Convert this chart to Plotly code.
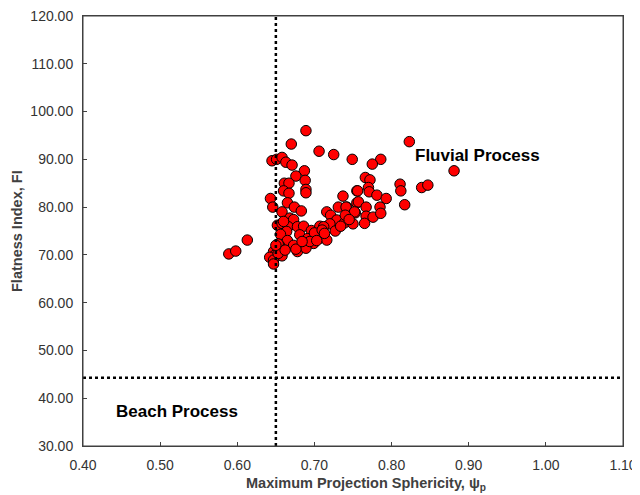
import plotly.graph_objects as go

sphericity = [
    0.589, 0.598, 0.613, 0.689, 0.670, 0.706, 0.725, 0.749, 0.645, 0.651,
    0.658, 0.663, 0.671, 0.687, 0.676, 0.688, 0.661, 0.667, 0.689, 0.689,
    0.660, 0.667, 0.643, 0.646, 0.665, 0.674, 0.683, 0.658, 0.668, 0.673,
    0.652, 0.658, 0.666, 0.678, 0.686, 0.696, 0.707, 0.716, 0.721, 0.731,
    0.737, 0.742, 0.753, 0.755, 0.755, 0.729, 0.739, 0.750, 0.720, 0.712,
    0.681, 0.691, 0.707, 0.716, 0.664, 0.656, 0.665, 0.673, 0.686, 0.699,
    0.678, 0.689, 0.655, 0.647, 0.653, 0.649, 0.642, 0.647, 0.647, 0.658,
    0.653, 0.823, 0.786, 0.775, 0.881, 0.766, 0.772, 0.811, 0.812, 0.839,
    0.847, 0.770, 0.771, 0.756, 0.781, 0.793, 0.817, 0.757, 0.767, 0.785,
    0.741, 0.752, 0.767, 0.776, 0.786, 0.740, 0.765, 0.745, 0.700, 0.710,
    0.694, 0.703, 0.713, 0.727, 0.734, 0.662, 0.676, 0.684, 0.660, 0.650,
]
flatness = [
    70.2, 70.8, 73.1, 96.0, 93.2, 91.7, 91.0, 90.0, 89.7, 90.0,
    90.4, 89.4, 88.8, 87.6, 86.5, 85.6, 85.0, 85.0, 83.7, 83.0,
    83.4, 82.9, 81.8, 80.0, 80.9, 80.0, 79.2, 79.0, 77.7, 77.4,
    76.2, 76.6, 75.9, 75.9, 76.0, 75.1, 76.0, 79.0, 78.3, 80.0,
    82.3, 80.0, 78.8, 83.4, 80.9, 77.3, 76.7, 76.5, 76.5, 75.9,
    74.2, 73.4, 73.5, 73.1, 74.9, 74.3, 73.0, 72.0, 72.1, 72.4,
    70.7, 71.4, 71.9, 70.7, 72.3, 70.0, 69.5, 68.9, 68.1, 69.8,
    70.3, 93.7, 90.0, 89.0, 87.6, 86.2, 85.7, 84.8, 83.4, 84.1,
    84.6, 84.1, 83.2, 83.4, 82.5, 81.8, 80.5, 81.1, 80.0, 80.0,
    80.0, 79.0, 78.1, 77.9, 78.7, 78.3, 76.6, 77.4, 74.6, 75.2,
    72.8, 73.0, 74.5, 75.0, 76.0, 71.0, 71.2, 72.8, 77.0, 72.0,
]

x_ticks = [0.40, 0.50, 0.60, 0.70, 0.80, 0.90, 1.00, 1.10]
y_ticks = [30, 40, 50, 60, 70, 80, 90, 100, 110, 120]
sphericity_threshold = 0.65
flatness_threshold = 44.3

FONT = "Liberation Sans, Arial"

fig = go.Figure()
fig.add_trace(go.Scatter(
    x=sphericity, y=flatness, mode="markers",
    marker=dict(color="#FF0000", size=10.5, line=dict(color="black", width=1)),
    showlegend=False, cliponaxis=False,
))

fig.add_shape(type="line", xref="x", yref="y",
              x0=sphericity_threshold, x1=sphericity_threshold, y0=30, y1=120,
              line=dict(color="black", width=2.5, dash="dot"))
fig.add_shape(type="line", xref="x", yref="y",
              x0=0.40, x1=1.10, y0=flatness_threshold, y1=flatness_threshold,
              line=dict(color="black", width=2.5, dash="dot"))
# plot frame
fig.add_shape(type="rect", xref="paper", yref="paper", x0=0, x1=1, y0=0, y1=1,
              line=dict(color="#404040", width=1), layer="above")

fig.add_annotation(x=0.828, y=90.9, text="<b>Fluvial Process</b>", showarrow=False,
                   xanchor="left", yanchor="middle",
                   font=dict(family=FONT, size=17, color="black"))
fig.add_annotation(x=0.440, y=37.3, text="<b>Beach Process</b>", showarrow=False,
                   xanchor="left", yanchor="middle",
                   font=dict(family=FONT, size=17, color="black"))

# axis titles
fig.add_annotation(xref="paper", yref="paper", x=0.524, y=0, yshift=-38,
                   text="<b>Maximum Projection Sphericity, ψ<sub>p</sub></b>",
                   showarrow=False, xanchor="center", yanchor="middle",
                   font=dict(family=FONT, size=14.5, color="#404040"))
fig.add_annotation(xref="paper", yref="paper", x=0, xshift=-66, y=0.5,
                   text="<b>Flatness Index, FI</b>", textangle=-90,
                   showarrow=False, xanchor="center", yanchor="middle",
                   font=dict(family=FONT, size=14.5, color="#404040"))

axis_common = dict(
    showgrid=False, zeroline=False, showline=True, mirror=True, automargin=False,
    linecolor="#404040", linewidth=1, ticks="inside", ticklen=4,
    tickcolor="#404040", tickfont=dict(family=FONT, size=14, color="#333333"),
    tickformat=".2f", ticklabeloverflow="allow",
)
fig.update_xaxes(range=[0.40, 1.10], tickvals=x_ticks, ticklabelstandoff=6, **axis_common)
fig.update_yaxes(range=[30, 120], tickvals=y_ticks, ticklabelstandoff=6, **axis_common)

# page body has an 8px margin, so the figure is sized/offset to compensate
fig.update_layout(
    width=632, height=487,
    margin=dict(l=75, r=17, t=8, b=49),
    plot_bgcolor="white", paper_bgcolor="white",
)
fig.write_html("out.html")
